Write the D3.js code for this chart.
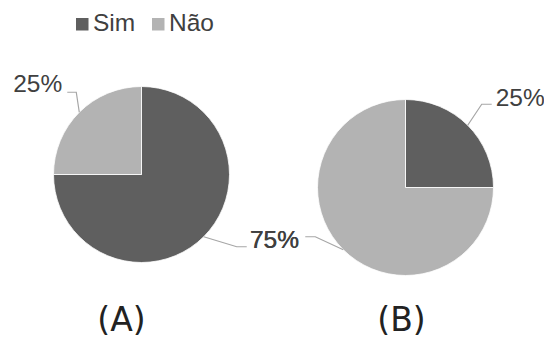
<!DOCTYPE html>
<html>
<head>
<meta charset="utf-8">
<script src="https://cdn.jsdelivr.net/npm/d3@7"></script>
<style>
  html, body { margin: 0; padding: 0; background: #fff; }
  svg { display: block; }
</style>
</head>
<body>
<svg id="chart" width="544" height="340"></svg>
<script>
// ---- data ----
const categories = ["Sim", "Não"];
const seriesA = [75, 25];
const seriesB = [25, 75];
const chartTitles = ["(A)", "(B)"];

// ---- style / layout ----
const colors = d3.scaleOrdinal().domain(categories).range(["#5f5f5f", "#b3b3b3"]);
const svg = d3.select("#chart");
const W = 544, H = 340;
svg.append("rect").attr("width", W).attr("height", H).attr("fill", "#fff");

const radius = 88;
const pies = [
  { values: seriesA, cx: 141.5, cy: 174.5, titleX: 121.5,
    // per slice leader layout: elbow offset, horizontal run, text gap, baseline shift
    lab: [ {ex: 33, ey: 10, run: 10, gap: 3, by: 1},
           {ex: -3, ey: -20, run: -9, gap: 5, by: 0} ] },
  { values: seriesB, cx: 405.5, cy: 187.5, titleX: 401.5,
    lab: [ {ex: 14, ey: -21, run: 10, gap: 4, by: 2},
           {ex: -28, ey: -13, run: -10, gap: 6, by: 11} ] }
];

const pie = d3.pie().sort(null).value(d => d.value);
const arc = d3.arc().innerRadius(0).outerRadius(radius);
const fmt = d3.format(".0%");

pies.forEach((p, pi) => {
  const data = categories.map((c, i) => ({ cat: c, value: p.values[i] }));
  const total = d3.sum(p.values);
  const g = svg.append("g").attr("transform", `translate(${p.cx},${p.cy})`);
  const arcs = pie(data);
  g.selectAll("path.slice").data(arcs).enter().append("path")
    .attr("class", "slice")
    .attr("d", arc)
    .attr("fill", d => colors(d.data.cat))
    .attr("stroke", "#fff")
    .attr("stroke-width", 0.8);

  arcs.forEach((a, i) => {
    const L = p.lab[i];
    const mid = (a.startAngle + a.endAngle) / 2;
    const r0 = radius * 1.0;
    const sx = Math.sin(mid) * r0, sy = -Math.cos(mid) * r0;
    const ex = sx + L.ex, ey = sy + L.ey;
    const hx = ex + L.run;
    g.append("polyline")
      .attr("points", `${sx},${sy} ${ex},${ey} ${hx},${ey}`)
      .attr("fill", "none")
      .attr("stroke", "#a6a6a6")
      .attr("stroke-width", 1.2);
    const right = L.run > 0;
    g.append("text")
      .attr("x", right ? hx + L.gap : hx - L.gap)
      .attr("y", ey + L.by)
      .attr("text-anchor", right ? "start" : "end")
      .attr("font-family", "'Liberation Sans', Arial, sans-serif")
      .attr("font-size", 24.5)
      .attr("fill", "#404040")
      .text(fmt(a.data.value / total));
  });

  svg.append("text")
    .attr("x", p.titleX)
    .attr("y", 331)
    .attr("text-anchor", "middle")
    .attr("font-family", "'DejaVu Sans', sans-serif")
    .attr("font-size", 33)
    .attr("fill", "#222")
    .text(chartTitles[pi]);
});

// ---- legend ----
const legendX = [76, 152];
const leg = svg.append("g");
categories.forEach((c, i) => {
  leg.append("rect")
    .attr("x", legendX[i]).attr("y", 18)
    .attr("width", 12.5).attr("height", 12.5)
    .attr("fill", colors(c));
  leg.append("text")
    .attr("x", legendX[i] + 17).attr("y", 31)
    .attr("font-family", "'Liberation Sans', Arial, sans-serif")
    .attr("font-size", 24.5)
    .attr("fill", "#404040")
    .text(c);
});
</script>
</body>
</html>
